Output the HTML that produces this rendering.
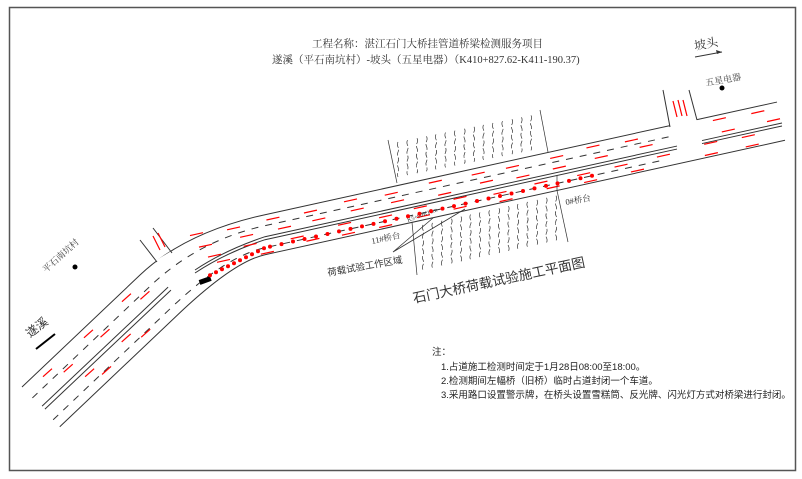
<!DOCTYPE html>
<html><head><meta charset="utf-8"><style>
html,body{margin:0;padding:0;background:#fff;}
svg{display:block;font-family:"Liberation Serif","Noto Serif CJK SC","Noto Sans CJK SC",serif;}
.s{font-family:"Liberation Sans","Noto Sans CJK SC",sans-serif;}
</style></head><body>
<svg id="g" width="802" height="479" viewBox="0 0 802 479" xmlns="http://www.w3.org/2000/svg">
<rect x="0" y="0" width="802" height="479" fill="#fff"/>
<rect x="9.5" y="7.5" width="786" height="463" fill="none" stroke="#555" stroke-width="1.5"/>
<g id="roads" fill="none" stroke="#333" stroke-width="1"></g>
<g id="reds" stroke="#f00" stroke-width="1.2"></g>
<g id="hatch" fill="none" stroke="#333" stroke-width="0.7"></g>
<g fill="none" stroke="#333" stroke-width="1">
<path d="M140,240 L157,262"/><path d="M153,228 L172,253"/>
<path d="M663,90 L670,127"/><path d="M689,90 L697,120"/>
</g>
<g stroke="#f00" stroke-width="1.2">
<path d="M678,100 L682,116"/><path d="M683,100 L687,116"/><path d="M673,101 L677,117"/>
<path d="M153,236 L160,250"/><path d="M158,233 L165,247"/>
</g>
<text x="312" y="47" font-size="10.5" fill="#333">工程名称：湛江石门大桥挂管道桥梁检测服务项目</text>
<text x="272" y="63" font-size="10.5" fill="#333">遂溪（平石南坑村）-坡头（五星电器）（K410+827.62-K411-190.37)</text>
<text x="695" y="50" font-size="12" fill="#333" transform="rotate(-10 695 50)">坡头</text>
<path d="M695,57 L722,52" stroke="#333" stroke-width="1"/><path d="M722,52 L716,50 L717,54Z" fill="#333"/>
<text x="706" y="86" font-size="9" fill="#444" transform="rotate(-10 706 86)">五星电器</text>
<circle cx="722" cy="88" r="2.5" fill="#000"/>
<text x="46" y="273" font-size="9" fill="#444" transform="rotate(-42 46 273)">平石南坑村</text>
<circle cx="75" cy="267" r="2.5" fill="#000"/>
<text x="30" y="338" font-size="12" fill="#333" class="s" transform="rotate(-38 30 338)">遂溪</text>
<path d="M36,349 L55,334" stroke="#000" stroke-width="2"/>
<text x="372" y="244" font-size="8.5" fill="#333" transform="rotate(-12 372 244)">11#桥台</text>
<text x="566" y="205" font-size="8.5" fill="#333" transform="rotate(-10 566 205)">0#桥台</text>
<text x="408" y="222" font-size="6" fill="#333" transform="rotate(-20 408 222)">K5+90K10m</text>
<text x="328" y="276" font-size="9.5" fill="#333" class="s" transform="rotate(-10 328 276)">荷载试验工作区域</text>
<path d="M393,252 L433,218 M393,252 L465,209" stroke="#333" stroke-width="0.8"/>
<text x="414" y="303" font-size="13.5" fill="#333" class="s" transform="rotate(-12 414 303)">石门大桥荷载试验施工平面图</text>
<rect x="199" y="278" width="12" height="5" fill="#000" transform="rotate(-20 205 280)"/>
<g font-size="9.5" fill="#222" class="s">
<text x="432" y="355">注：</text>
<text x="441" y="370">1.占道施工检测时间定于1月28日08:00至18:00。</text>
<text x="441" y="384">2.检测期间左幅桥（旧桥）临时占道封闭一个车道。</text>
<text x="441" y="398">3.采用路口设置警示牌，在桥头设置雪糕筒、反光牌、闪光灯方式对桥梁进行封闭。</text>
</g>
<g id="dots" fill="#f00"></g>
</svg>
<script>
(function(){
var NS="http://www.w3.org/2000/svg";
function el(p,t,a){var e=document.createElementNS(NS,t);for(var k in a)e.setAttribute(k,a[k]);p.appendChild(e);return e;}
var roads=document.getElementById('roads'),reds=document.getElementById('reds'),hatch=document.getElementById('hatch'),dots=document.getElementById('dots');
var S=-0.22;
function yR(o,x){return 163+o+S*(x-500);}
function pathFor(o,xEnd){
  var ol=o*1.37;
  var L0=[22+0.689*ol,387+0.725*ol];
  var L1=[140+0.689*ol,275+0.725*ol];
  var R0=[265,yR(o,265)];
  var a=-0.95, b=S;
  var cx=(R0[1]-b*R0[0]-(L1[1]-a*L1[0]))/(a-b);
  var cy=L1[1]+a*(cx-L1[0]);
  return {d:"M"+L0.join(",")+" L"+L1.join(",")+" Q"+cx+","+cy+" "+R0.join(",")+" L"+xEnd+","+yR(o,xEnd)};
}
el(roads,'path',{d:pathFor(0,670).d});
el(roads,'path',{d:pathFor(40,785).d});
el(roads,'path',{d:"M697,"+yR(0,697)+" L777,"+yR(0,777)});
el(roads,'path',{d:"M157,262 L172,253",stroke:"#fff","stroke-width":4});
el(roads,'path',{d:pathFor(11,675).d,"stroke-dasharray":"7,7"});
el(roads,'path',{d:pathFor(33,660).d,"stroke-dasharray":"7,7"});
[22,25].forEach(function(o){
  var ol=o*1.37;
  el(roads,'path',{d:"M"+(42+0.689*(ol-30))+","+(406+0.725*(ol-30))+" L"+(168+0.689*(ol-30))+","+(287+0.725*(ol-30))});
  el(roads,'path',{d:"M195,"+(270+(o-22))+" Q225,"+(250+(o-22))+" 265,"+yR(o,265)+" L677,"+yR(o,677)});
  el(roads,'path',{d:"M702,"+yR(o,702)+" L782,"+yR(o,782)});
});
var seed=3;function rnd(){seed=(seed*9301+49297)%233280;return seed/233280;}
[5,17,28,37].forEach(function(o,i){
  for(var x=190+i*9;x<770;x+=34+rnd()*14){
    if(x>664&&x<700)continue;
    var y=yR(o,x)+(rnd()-0.5)*4;
    el(reds,'path',{d:"M"+x+","+y+" l13,"+(13*S)});
  }
});
for(var t=0;t<10;t++){
  var ol=[7,18,36,46][t%4];
  var s=20+t*13+rnd()*10;
  var x=22+0.689*ol+s*0.725, y=387+0.725*ol-s*0.689;
  el(reds,'path',{d:"M"+x+","+y+" l9,-8"});
}
for(var x=210;x<600;x+=(x<265?6:11.5)){
  var y=(x<265)?(yR(33,265)+(265-x)*0.5):yR(33,x);
  el(dots,'circle',{cx:x,cy:y,r:2});
}
function wavy(x,top,bot){
  var d="M"+x+","+top;for(var y=top;y<bot-5;y+=5){d+=" q"+(((y/5)|0)%2?1.2:-1.2)+",2.5 0,5";}
  el(hatch,'path',{d:d,"stroke-dasharray":"6,2"});
}
el(hatch,'path',{d:"M388,140 L397,183"});el(hatch,'path',{d:"M540,110 L548,152"});
for(var x=398;x<538;x+=9.5){ wavy(x,140-(x-388)*0.2+4, yR(0,x+5)-3); }
el(hatch,'path',{d:"M412,"+yR(40,412)+" L417,275"});el(hatch,'path',{d:"M557,"+yR(40,557)+" L568,242"});
for(var x=423;x<558;x+=9.5){ wavy(x,yR(40,x)+5, 275-(x-417)*0.22-3); }
el(hatch,'path',{d:"M557,"+yR(40,557)+" L557,"+(yR(40,557)-15)});
})();
</script>
</body></html>
